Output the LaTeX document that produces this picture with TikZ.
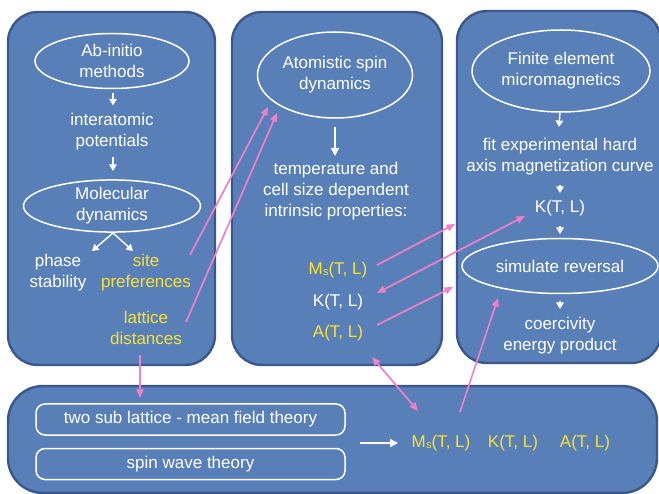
\documentclass[tikz,border=0pt]{standalone}
\usepackage{fontspec}
\setmainfont{Liberation Sans}
\usetikzlibrary{shapes.geometric,arrows.meta,calc}
\definecolor{panelfill}{RGB}{89,127,184}
\definecolor{paneldraw}{RGB}{58,88,138}
\definecolor{pinkc}{RGB}{242,128,200}
\definecolor{yell}{RGB}{250,226,50}
\newcommand{\Msub}{M\kern0.2pt\raisebox{-0.8pt}{\fontsize{11}{11}\selectfont s}}
\begin{document}
\begin{tikzpicture}[x=1pt,y=-1pt,
  panel/.style={draw=paneldraw, line width=2.4pt, fill=panelfill, rounded corners=30pt, inner sep=0pt},
  txt/.style={text=white, align=center, font=\fontsize{17}{21}\selectfont, inner sep=0pt},
  ytxt/.style={txt, text=yell},
  ell/.style={ellipse, draw=white, line width=1.5pt, txt},
  sbox/.style={draw=white, line width=1.5pt, rounded corners=9pt, txt, minimum width=309pt, minimum height=31pt},
  warrow/.style={white, line width=1.4pt, -{Triangle[length=6.5pt,width=7.5pt]}},
  wbig/.style={white, line width=1.6pt, -{Triangle[length=8pt,width=8pt]}},
  parrow/.style={pinkc, line width=1.7pt, -{Triangle[length=8.5pt,width=7pt]}},
  pdarrow/.style={pinkc, line width=1.7pt, {Triangle[length=8.5pt,width=7pt]}-{Triangle[length=8.5pt,width=7pt]}}]
\useasboundingbox (0,0) rectangle (659,494);
\clip (0,0) rectangle (659,494);
% panels
\node[panel, minimum width=207pt, minimum height=353pt] (p1) at (111.5,188.5) {};
\node[panel, minimum width=210pt, minimum height=353pt] (p2) at (337,188.5) {};
\node[panel, minimum width=204pt, minimum height=352pt] (p3) at (559,187) {};
\node[panel, rounded corners=35pt, minimum width=649pt, minimum height=107pt] (pb) at (332.5,439.5) {};
% panel 1
\node[ell, minimum width=154pt, minimum height=55pt] (ell1) at (112,61) {Ab-initio\\methods};
\node[txt] (t1) at (112,131.5) {interatomic\\potentials};
\node[ell, minimum width=177pt, minimum height=48pt] (ell2) at (112,206) {Molecular\\dynamics};
\node[txt] (phase) at (58,273) {phase\\stability};
\node[ytxt] (site) at (146,273) {site\\preferences};
\node[ytxt] (lat) at (146,327.5) {lattice\\distances};
\draw[warrow] ($(ell1)+(1,32)$) -- ($(t1)+(1,-26)$);
\draw[warrow] ($(t1)+(1,25.5)$) -- ($(ell2)+(1,-35)$);
\draw[warrow] ($(ell2)+(1,27)$) -- ($(phase)+(34,-22)$);
\draw[warrow] ($(ell2)+(1,27)$) -- ($(site)+(-13,-22)$);
% panel 2
\node[ell, minimum width=155pt, minimum height=86pt] (ell3) at (335,75) {Atomistic spin\\dynamics};
\node[txt] (t2) at (336,191) {temperature and\\cell size dependent\\intrinsic properties:};
\node[ytxt] (ms2) at (338,270) {\Msub(T, L)};
\node[txt] (k2) at (338,302) {K(T, L)};
\node[ytxt] (a2) at (338,333) {A(T, L)};
\draw[wbig] ($(ell3)+(0,52)$) -- ($(t2)+(-1,-35)$);
% panel 3
\node[ell, minimum width=178pt, minimum height=82pt] (ell4) at (561,71) {Finite element\\micromagnetics};
\node[txt] (t3) at (560,157) {fit experimental hard\\axis magnetization curve};
\node[txt] (k3) at (560,208) {K(T, L)};
\node[ell, minimum width=196pt, minimum height=55pt] (ell5) at (560,266) {simulate reversal};
\node[txt] (t4) at (560,336) {coercivity\\energy product};
\draw[warrow] ($(ell4)+(-1,41)$) -- ($(t3)+(-1,-30)$);
\draw[warrow] ($(t3)+(0,28)$) -- ($(k3)+(0,-15)$);
\draw[warrow] ($(k3)+(0,18)$) -- ($(ell5)+(0,-32)$);
\draw[warrow] ($(ell5)+(0,35)$) -- ($(t4)+(0,-27)$);
% bottom panel
\node[sbox] (box1) at (190.5,419.5) {two sub lattice - mean field theory};
\node[sbox] (box2) at (190.5,464) {spin wave theory};
\node[ytxt] (msb) at (441,443) {\Msub(T, L)};
\node[ytxt] (kb) at (513,443) {K(T, L)};
\node[ytxt] (ab) at (585,443) {A(T, L)};
\draw[wbig, line width=1.4pt] ($(box1)+(169.5,23.5)$) -- ($(msb)+(-43,0)$);
% pink connectors
\draw[parrow] ($(site)+(44,-18)$) -- ($(ell3)+(-67,32)$);
\draw[parrow] ($(lat)+(40,-5.5)$) -- ($(ell3)+(-58,38)$);
\draw[parrow] ($(lat)+(-6,27.5)$) -- ($(box1)+(-50.5,-21.5)$);
\draw[parrow] ($(ms2)+(39,-5)$) -- ($(p3)+(-104,37)$);
\draw[pdarrow] ($(k3)+(-35,8)$) -- ($(k2)+(39,-9)$);
\draw[parrow] ($(a2)+(39,-8)$) -- ($(p3)+(-106,100)$);
\draw[pdarrow] ($(p2)+(35,168.5)$) -- ($(msb)+(-23,-32)$);
\draw[parrow] ($(msb)+(19,-31)$) -- ($(ell5)+(-62,32)$);
\end{tikzpicture}
\end{document}
